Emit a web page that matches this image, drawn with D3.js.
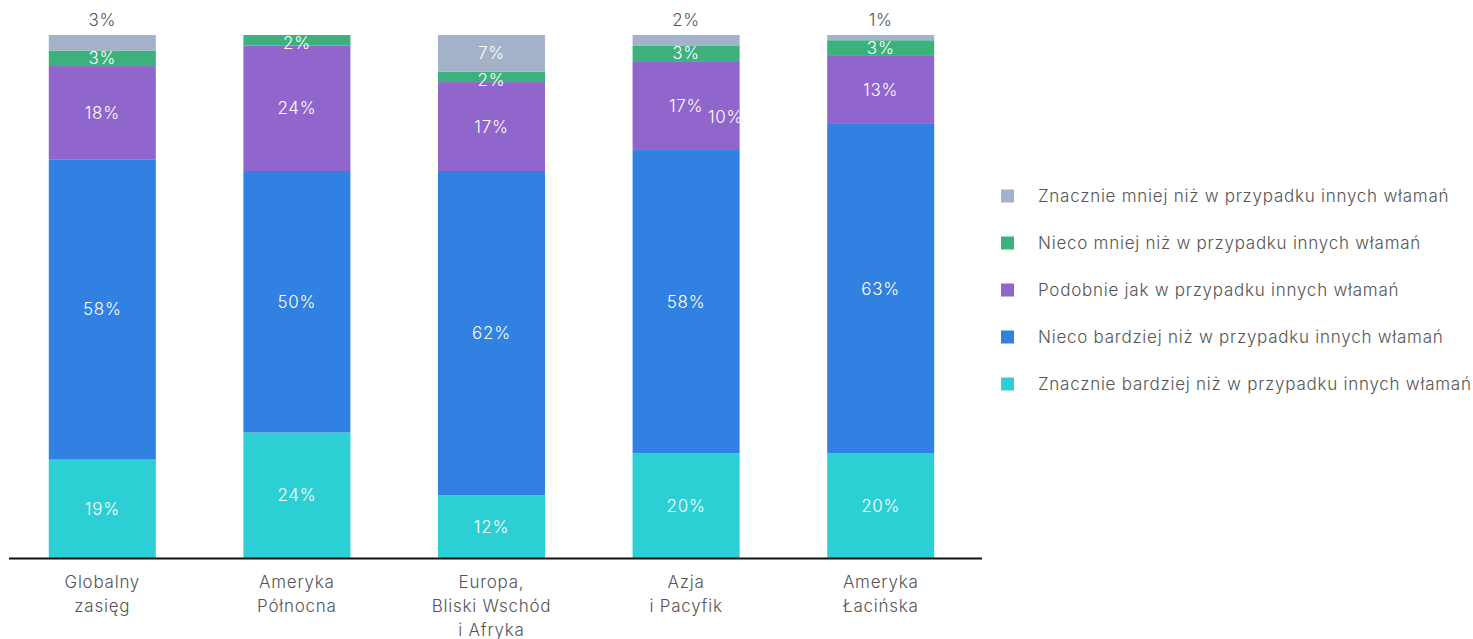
<!DOCTYPE html>
<html>
<head>
<meta charset="utf-8">
<script src="https://cdn.jsdelivr.net/npm/d3@7"></script>
<style>
  html, body { margin: 0; padding: 0; background: #fff; }
  svg text { font-family: Inter, "Noto Sans", sans-serif; font-weight: 300; letter-spacing: 0.75px; }
</style>
</head>
<body>
<svg id="chart" width="1473" height="639"></svg>
<script>
// ---- data ----
const categories = [
  ["Globalny", "zasięg"],
  ["Ameryka", "Północna"],
  ["Europa,", "Bliski Wschód", "i Afryka"],
  ["Azja", "i Pacyfik"],
  ["Ameryka", "Łacińska"]
];
const seriesNames = [
  "Znacznie bardziej niż w przypadku innych włamań",
  "Nieco bardziej niż w przypadku innych włamań",
  "Podobnie jak w przypadku innych włamań",
  "Nieco mniej niż w przypadku innych włamań",
  "Znacznie mniej niż w przypadku innych włamań"
];
const znacznieBardziej = [19, 24, 12, 20, 20];
const niecoBardziej    = [58, 50, 62, 58, 63];
const podobnie         = [18, 24, 17, 17, 13];
const niecoMniej       = [3, 2, 2, 3, 3];
const znacznieMniej    = [3, 0, 7, 2, 1];
const seriesColors = ["#2ccfd4", "#3081e1", "#9065cc", "#3db17d", "#a3b1c9"];
// stray annotation seen in the reference (Azja i Pacyfik bar)
const extraLabels = [{cat: 3, text: "10%"}];

// ---- build ----
const svg = d3.select("#chart");
const keys = ["s0", "s1", "s2", "s3", "s4"];
const seriesVals = [znacznieBardziej, niecoBardziej, podobnie, niecoMniej, znacznieMniej];
const rows = categories.map((c, i) => {
  const r = {idx: i};
  keys.forEach((k, j) => r[k] = seriesVals[j][i]);
  return r;
});
const stacked = d3.stack().keys(keys).offset(d3.stackOffsetExpand)(rows);

const x = d3.scaleBand().domain(d3.range(categories.length)).range([5, 978]).paddingInner(0.45).paddingOuter(0.225);
const y = d3.scaleLinear().domain([0, 1]).range([558, 35]);

const FS = 17;
const g = svg.append("g");
stacked.forEach((layer, si) => {
  g.selectAll(null).data(layer).enter().append("rect")
    .attr("x", (d, i) => x(i))
    .attr("width", x.bandwidth())
    .attr("y", d => y(d[1]))
    .attr("height", d => Math.max(0, y(d[0]) - y(d[1])))
    .attr("fill", seriesColors[si]);
});

// segment labels
stacked.forEach((layer, si) => {
  layer.forEach((d, i) => {
    const v = seriesVals[si][i];
    if (!v) return;
    const h = y(d[0]) - y(d[1]);
    const cx = x(i) + x.bandwidth() / 2;
    let cy, color;
    if (si === 4 && v < 5) {
      cy = y(d[1]) - 15; color = "#555";
    } else {
      cy = (y(d[0]) + y(d[1])) / 2 + (h < 14 ? 3 : 0); color = "#fff";
    }
    svg.append("text").attr("x", cx).attr("y", cy)
      .attr("text-anchor", "middle").attr("dominant-baseline", "central")
      .attr("font-size", FS).attr("fill", color).text(v + "%");
  });
});
extraLabels.forEach(e => {
  const layer = stacked[2][e.cat];
  svg.append("text")
    .attr("x", x(e.cat) + x.bandwidth() - 14)
    .attr("y", (y(layer[0]) + y(layer[1])) / 2 + 11)
    .attr("text-anchor", "middle").attr("dominant-baseline", "central")
    .attr("font-size", FS).attr("fill", "#fff").text(e.text);
});

// axis line
svg.append("line").attr("x1", 9).attr("x2", 982).attr("y1", 558.5).attr("y2", 558.5)
  .attr("stroke", "#111").attr("stroke-width", 2);

// category labels
categories.forEach((lines, i) => {
  const t = svg.append("text").attr("text-anchor", "middle").attr("font-size", FS).attr("fill", "#555");
  lines.forEach((ln, j) => {
    t.append("tspan").attr("x", x(i) + x.bandwidth() / 2).attr("y", 588 + j * 24).text(ln);
  });
});

// legend (top to bottom: reverse order)
const legendOrder = [4, 3, 2, 1, 0];
legendOrder.forEach((si, k) => {
  const cy = 196 + k * 47;
  svg.append("rect").attr("x", 1001).attr("y", cy - 6.5).attr("width", 13).attr("height", 13)
    .attr("fill", seriesColors[si]);
  svg.append("text").attr("x", 1038).attr("y", cy).attr("dominant-baseline", "central")
    .attr("font-size", FS).attr("fill", "#555").text(seriesNames[si]);
});
</script>
</body>
</html>
